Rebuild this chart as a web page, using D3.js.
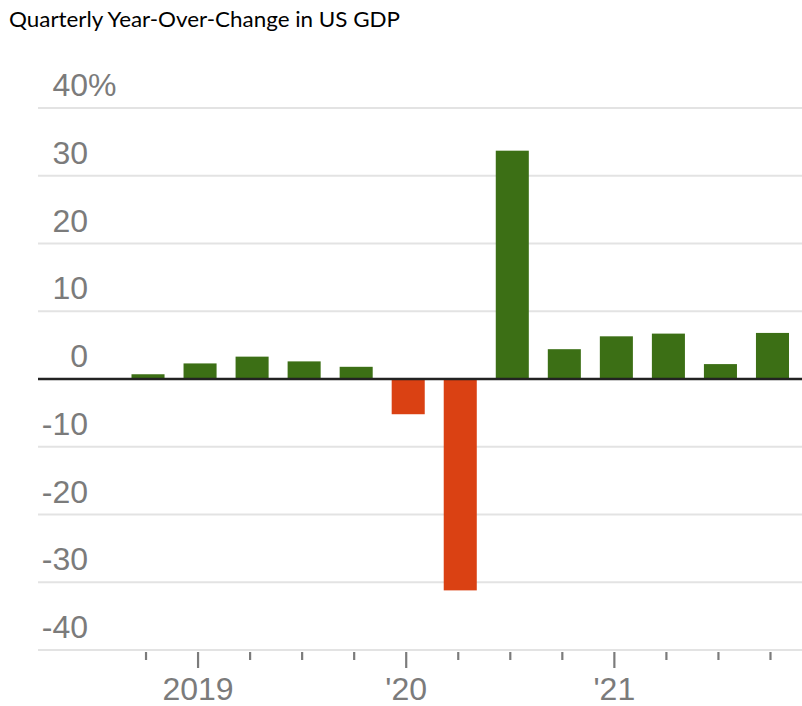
<!DOCTYPE html>
<html>
<head>
<meta charset="utf-8">
<script src="https://cdn.jsdelivr.net/npm/d3@7"></script>
<style>
  body { margin: 0; background: #fff; }
  svg { display: block; }
</style>
</head>
<body>
<svg id="chart" width="802" height="706"></svg>
<script>
// quarters, 2018 Q4 through 2021 Q4
const quarters = ["2018Q4", "2019Q1", "2019Q2", "2019Q3", "2019Q4",
                  "2020Q1", "2020Q2", "2020Q3", "2020Q4",
                  "2021Q1", "2021Q2", "2021Q3", "2021Q4"];
// year-over change, percent
const values = [0.7, 2.3, 3.3, 2.6, 1.8, -5.2, -31.2, 33.7, 4.4, 6.3, 6.7, 2.2, 6.8];
const yTicks = [40, 30, 20, 10, 0, -10, -20, -30, -40];
const yearLabels = [["2019Q1", "2019"], ["2020Q1", "'20"], ["2021Q1", "'21"]];

const svg = d3.select("#chart");
const gridLeft = 38, gridRight = 802;

const x = d3.scaleBand()
    .domain(quarters)
    .range([122, 798.5])
    .paddingInner(0.365)
    .paddingOuter(0.1825);

const y = d3.scaleLinear()
    .domain([-40, 40])
    .range([650, 108]);

// gridlines
svg.append("g").selectAll("line")
    .data(yTicks.filter(d => d !== 0))
    .join("line")
    .attr("x1", gridLeft).attr("x2", gridRight)
    .attr("y1", d => y(d)).attr("y2", d => y(d))
    .attr("stroke", "#e3e3e3")
    .attr("stroke-width", 2);

// y labels, numbers right aligned, % hanging off the top one
const lab = svg.append("g")
    .attr("font-family", "Liberation Sans, Arial, sans-serif")
    .attr("font-size", 32)
    .attr("fill", "#7b7b7b");
lab.selectAll("text.num")
    .data(yTicks)
    .join("text")
    .attr("class", "num")
    .attr("x", 88)
    .attr("y", d => y(d) - 12)
    .attr("text-anchor", "end")
    .text(d => d);
lab.append("text")
    .attr("x", 88)
    .attr("y", y(40) - 12)
    .text("%");

// bars
svg.append("g").selectAll("rect")
    .data(values)
    .join("rect")
    .attr("x", (d, i) => x(quarters[i]))
    .attr("width", x.bandwidth())
    .attr("y", d => y(Math.max(0, d)))
    .attr("height", d => Math.abs(y(d) - y(0)))
    .attr("fill", d => d >= 0 ? "#3c6f15" : "#da4113");

// zero line
svg.append("line")
    .attr("x1", gridLeft).attr("x2", gridRight)
    .attr("y1", y(0)).attr("y2", y(0))
    .attr("stroke", "#222")
    .attr("stroke-width", 2.5);

// quarter ticks
const majors = yearLabels.map(d => d[0]);
svg.append("g").selectAll("line")
    .data(quarters)
    .join("line")
    .attr("x1", d => x(d) + x.bandwidth() / 2 - 2)
    .attr("x2", d => x(d) + x.bandwidth() / 2 - 2)
    .attr("y1", y(-40) + 2)
    .attr("y2", d => majors.includes(d) ? y(-40) + 18 : y(-40) + 10)
    .attr("stroke", "#7b7b7b")
    .attr("stroke-width", 2.2);

svg.append("g")
    .attr("font-family", "Liberation Sans, Arial, sans-serif")
    .attr("font-size", 32)
    .attr("fill", "#7b7b7b")
    .attr("text-anchor", "middle")
    .selectAll("text")
    .data(yearLabels)
    .join("text")
    .attr("x", d => x(d[0]) + x.bandwidth() / 2 - 2)
    .attr("y", 700)
    .text(d => d[1]);

// title
svg.append("text")
    .attr("x", 9)
    .attr("y", 27)
    .attr("font-family", "Lato, sans-serif")
    .attr("font-size", 21)
    .attr("textLength", 391)
    .attr("lengthAdjust", "spacingAndGlyphs")
    .attr("fill", "#000")
    .text("Quarterly Year-Over-Change in US GDP");
</script>
</body>
</html>
